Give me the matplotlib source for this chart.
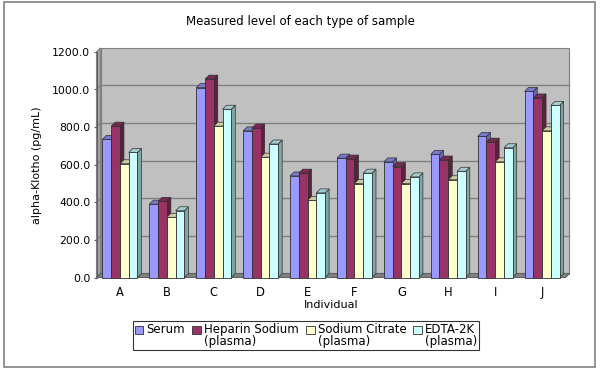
import matplotlib
matplotlib.use('Agg')
import matplotlib.pyplot as plt
from matplotlib.patches import Polygon, Rectangle, Patch
from matplotlib.legend_handler import HandlerPatch
import numpy as np

individuals = ['A', 'B', 'C', 'D', 'E', 'F', 'G', 'H', 'I', 'J']
serum = [735, 390, 1010, 780, 540, 635, 615, 655, 750, 990]
heparin = [805, 405, 1055, 795, 555, 630, 590, 625, 720, 955]
citrate = [605, 320, 805, 640, 410, 500, 500, 520, 615, 780]
edta = [665, 355, 895, 710, 450, 555, 535, 565, 690, 915]
series_names = ['Serum', 'Heparin Sodium\n(plasma)', 'Sodium Citrate\n(plasma)', 'EDTA-2K\n(plasma)']
y_ticks = [0, 200, 400, 600, 800, 1000, 1200]

front_cols = ['#9999ff', '#993366', '#ffffcc', '#ccffff']
side_cols = ['#6666b3', '#5c1f3d', '#b3b38f', '#7fa6a6']
top_cols = ['#7a7acc', '#7a2952', '#cccca3', '#a3cccc']

plt.rcParams['font.family'] = ['DejaVu Sans']
fig = plt.figure(figsize=(6, 3.71), dpi=100)
W, H = 600, 371
# outer frame
fig.patches.append(Rectangle((4 / W, 1 - 367 / H), 591 / W, 365 / H, transform=fig.transFigure,
                             fill=False, edgecolor='#808080', linewidth=1.2))

ax = fig.add_axes([96.5 / W, 1 - 277.5 / H, 469 / W, 225.6 / H])
ax.set_xlim(-0.5, 9.5)
ax.set_ylim(0, 1200)
ax.patch.set_visible(False)

# depth offset in data units (about 4 px right, 4 px up)
dx = 4 / 46.9
dy = 4 / (225.6 / 1200)

# back wall, left wall, floor
ax.add_patch(Rectangle((-0.5 + dx, dy), 10, 1200, facecolor='#c0c0c0', edgecolor='#808080',
                       linewidth=0.8, clip_on=False, zorder=0))
ax.add_patch(Polygon([(-0.5, 0), (-0.5 + dx, dy), (-0.5 + dx, 1200 + dy), (-0.5, 1200)],
                     closed=True, facecolor='#a6a6a6', edgecolor='#808080', linewidth=0.8,
                     clip_on=False, zorder=0.5))
for v in y_ticks[1:-1]:
    ax.plot([-0.5 + dx, 9.5 + dx], [v + dy, v + dy], color='#808080', linewidth=1.0,
            clip_on=False, zorder=0.6)
    ax.plot([-0.5, -0.5 + dx], [v, v + dy], color='#808080', linewidth=0.8,
            clip_on=False, zorder=0.6)
ax.add_patch(Polygon([(-0.5, 0), (9.5, 0), (9.5 + dx, dy), (-0.5 + dx, dy)], closed=True,
                     facecolor='#808080', edgecolor='#606060', linewidth=0.8,
                     clip_on=False, zorder=0.7))

x = np.arange(len(individuals))
bw = 0.187
data = [serum, heparin, citrate, edta]
for k, vals in enumerate(data):
    pos = x + (k - 1.5) * bw
    z = 2 + k
    ax.bar(pos, vals, width=bw, color=front_cols[k], edgecolor='#303030',
           linewidth=0.6, zorder=z, clip_on=False)
    for p, h in zip(pos, vals):
        xl, xr = p - bw / 2, p + bw / 2
        ax.add_patch(Polygon([(xr, 0), (xr, h), (xr + dx, h + dy), (xr + dx, dy)], closed=True,
                             facecolor=side_cols[k], edgecolor='#303030', linewidth=0.5,
                             clip_on=False, zorder=z - 0.1))
        ax.add_patch(Polygon([(xl, h), (xr, h), (xr + dx, h + dy), (xl + dx, h + dy)], closed=True,
                             facecolor=top_cols[k], edgecolor='#303030', linewidth=0.5,
                             clip_on=False, zorder=z - 0.1))

for s in ['top', 'right', 'bottom']:
    ax.spines[s].set_visible(False)
ax.spines['left'].set_color('#606060')
ax.spines['left'].set_zorder(1)
ax.set_yticks(y_ticks)
ax.set_yticklabels(['%.1f' % v for v in y_ticks])
ax.tick_params(axis='y', direction='out', length=2.5, width=0.8, color='#606060',
               labelsize=7.8, pad=2)
ax.set_xticks(x)
ax.set_xticklabels(individuals)
ax.tick_params(axis='x', length=0, labelsize=8.3, pad=6)

ax.set_ylabel('alpha-Klotho (pg/mL)', fontsize=8, labelpad=7)
ax.set_xlabel('Individual', fontsize=8, labelpad=1)
fig.text(300 / W, 1 - 21 / H, 'Measured level of each type of sample', ha='center', va='center',
         fontsize=8.5)


# legend squares sit on the first text line
def top_square(legend, orig_handle, xdescent, ydescent, width, height, fontsize):
    return Rectangle((-xdescent, -ydescent + 0.55 * fontsize), width, height)


proxies = [Patch(facecolor=c, edgecolor='#303030', linewidth=0.6) for c in front_cols]
leg_labels = [series_names[0] + '\n '] + series_names[1:]
leg = fig.legend(handles=proxies, labels=leg_labels, loc='center', ncol=4,
                 bbox_to_anchor=(306 / W, 1 - 335.5 / H), fontsize=8.5, frameon=True,
                 fancybox=False, edgecolor='black', handlelength=0.75, handleheight=0.75,
                 handletextpad=0.25, columnspacing=0.6, borderpad=0.15, borderaxespad=0,
                 handler_map={Patch: HandlerPatch(patch_func=top_square)})
leg.get_frame().set_linewidth(0.8)
for t in leg.get_texts():
    t.set_linespacing(0.9)

fig.savefig('out.png', dpi=100)
